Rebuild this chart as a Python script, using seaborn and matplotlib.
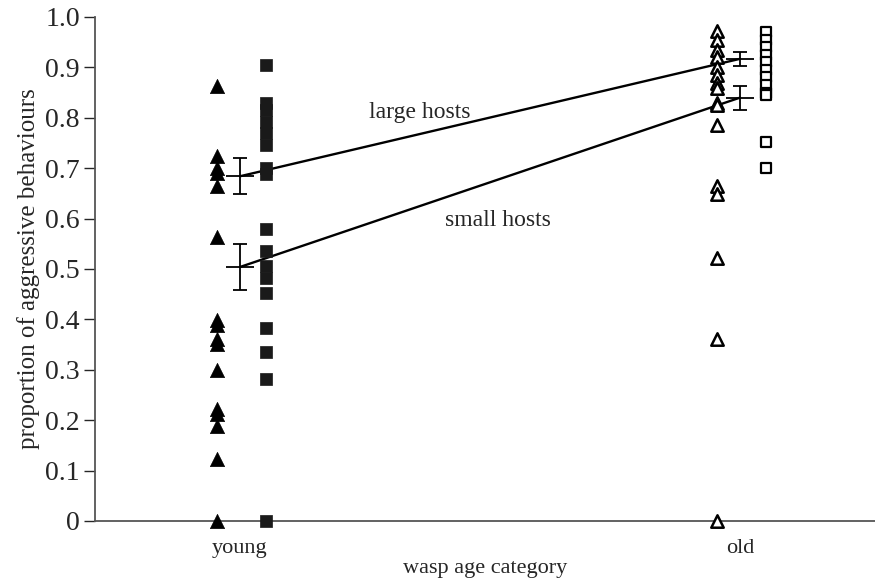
import numpy as np
import pandas as pd
import seaborn as sns
import matplotlib.pyplot as plt

# data
categories = ['young', 'old']

young_triangles = [0.863, 0.725, 0.700, 0.690, 0.665, 0.563, 0.398, 0.388, 0.362,
                   0.352, 0.300, 0.222, 0.212, 0.188, 0.123, 0.0]
young_squares = [0.905, 0.830, 0.815, 0.792, 0.770, 0.746, 0.700, 0.688, 0.580,
                 0.535, 0.505, 0.482, 0.452, 0.383, 0.335, 0.282, 0.0]
old_triangles = [0.972, 0.955, 0.935, 0.920, 0.900, 0.885, 0.870, 0.860, 0.830,
                 0.825, 0.785, 0.665, 0.648, 0.522, 0.362, 0.0]
old_squares = [0.970, 0.955, 0.940, 0.925, 0.910, 0.895, 0.880, 0.865, 0.850,
               0.845, 0.752, 0.700]

large_means = [0.684, 0.917]
large_err = [0.036, 0.014]
small_means = [0.504, 0.840]
small_err = [0.045, 0.024]

sns.set_style('ticks')
plt.rcParams['font.family'] = ['Liberation Serif', 'DejaVu Serif']

fig = plt.figure(figsize=(8.75, 5.84), dpi=100)
ax = fig.add_axes([0.1086, 0.1079, 0.8914, 0.863])

# points: triangles left of the category, squares right of it
def pts(vals, pos):
    return pd.DataFrame({'x': [pos] * len(vals), 'y': vals})

tri_off, sq_off = -0.047, 0.052
sns.scatterplot(data=pts(young_triangles, 0 + tri_off), x='x', y='y', marker='^',
                s=105, color='black', edgecolor='black', linewidth=0.5, ax=ax, clip_on=False, zorder=3)
sns.scatterplot(data=pts(young_squares, 0 + sq_off), x='x', y='y', marker='s',
                s=75, color='#1a1a1a', edgecolor='#1a1a1a', linewidth=0.5, ax=ax, clip_on=False, zorder=3)
sns.scatterplot(data=pts(old_triangles, 1 + tri_off), x='x', y='y', marker='^',
                s=80, color='white', edgecolor='black', linewidth=1.8, ax=ax, clip_on=False, zorder=3)
sns.scatterplot(data=pts(old_squares, 1 + sq_off), x='x', y='y', marker='s',
                s=60, color='white', edgecolor='black', linewidth=1.6, ax=ax, clip_on=False, zorder=3)

# mean lines with error bars
xpos = [0, 1]
for means, errs in [(large_means, large_err), (small_means, small_err)]:
    sns.lineplot(x=xpos, y=means, color='black', linewidth=1.7, ax=ax, zorder=2)
    ax.errorbar(xpos, means, yerr=errs, fmt='none', ecolor='black', elinewidth=1.3,
                capsize=5, capthick=1.3, zorder=2)
    ax.scatter(xpos, means, marker='_', s=420, color='black', linewidths=1.3, zorder=2)

ax.text(0.36, 0.81, 'large hosts', fontsize=17, ha='center', va='center')
ax.text(0.515, 0.597, 'small hosts', fontsize=17, ha='center', va='center')

ax.set_xlim(-0.29, 1.27)
ax.set_ylim(0, 1.0)
ax.set_xticks(xpos)
ax.set_xticklabels(categories)
ax.set_yticks(np.arange(0, 1.01, 0.1))
ax.set_yticklabels(['0'] + [f'{v:.1f}' for v in np.arange(0.1, 1.01, 0.1)])
ax.tick_params(axis='x', length=0, labelsize=16, pad=13)
ax.tick_params(axis='y', length=8, width=1, labelsize=20, direction='out', pad=3)
ax.set_xlabel('wasp age category', fontsize=16, labelpad=1)
ax.set_ylabel('proportion of aggressive behaviours', fontsize=18, labelpad=4)
for side in ['top', 'right']:
    ax.spines[side].set_visible(False)
for side in ['left', 'bottom']:
    ax.spines[side].set_color('#555555')
    ax.spines[side].set_linewidth(1.3)

plt.savefig('out.png', dpi=100)
